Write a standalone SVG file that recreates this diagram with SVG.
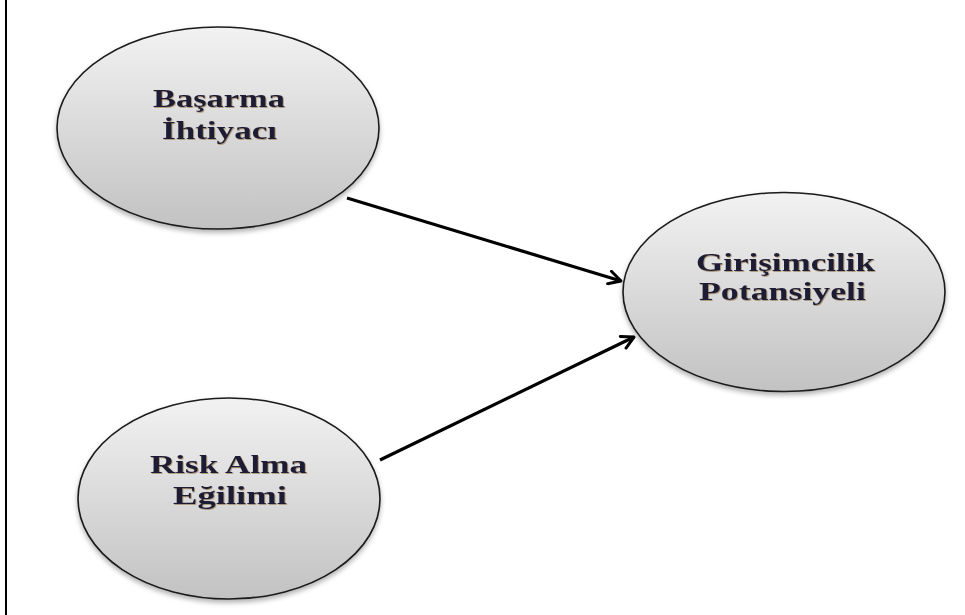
<svg xmlns="http://www.w3.org/2000/svg" width="965" height="615" viewBox="0 0 965 615">
  <defs>
    <linearGradient id="bubbleFill" x1="0" y1="0" x2="0" y2="1">
      <stop offset="0" stop-color="#f2f2f2"/>
      <stop offset="1" stop-color="#c2c2c2"/>
    </linearGradient>
    <filter id="softShadow" x="-10%" y="-10%" width="125%" height="130%">
      <feDropShadow dx="0" dy="3" stdDeviation="2.5" flood-color="#000" flood-opacity="0.3"/>
    </filter>
    <filter id="textShadow" x="-5%" y="-20%" width="110%" height="140%">
      <feDropShadow dx="0.8" dy="0.8" stdDeviation="0.6" flood-color="#8a6a3a" flood-opacity="0.7"/>
    </filter>
    <marker id="openArrow" viewBox="0 0 16 16" refX="14" refY="8" markerWidth="16" markerHeight="16" markerUnits="userSpaceOnUse" orient="auto">
      <path d="M2,1.5 L14,8 L2,14.5" fill="none" stroke="#000" stroke-width="3" stroke-linecap="round" stroke-linejoin="round"/>
    </marker>
  </defs>
  <style>
    .bubble { fill: url(#bubbleFill); stroke: #1a1a1a; stroke-width: 1.6; filter: url(#softShadow); }
    .label { font-family: "Liberation Serif", "Times New Roman", serif; font-weight: bold; font-size: 25px; fill: #1b1b36; text-anchor: middle; filter: url(#textShadow); }
    .edge { fill: none; stroke: #000; stroke-width: 3.2; marker-end: url(#openArrow); }
  </style>

  <rect x="0" y="0" width="965" height="615" fill="#fff"/>
  <!-- left frame rule -->
  <line x1="6" y1="0" x2="6" y2="615" stroke="#000" stroke-width="2"/>

  <g id="connectors">
    <line class="edge" x1="347" y1="198" x2="621" y2="281"/>
    <line class="edge" x1="380" y1="460" x2="634" y2="337"/>
  </g>

  <g id="node-basarma">
    <ellipse class="bubble" cx="218" cy="128" rx="161" ry="101"/>
    <text class="label" x="219" y="107" textLength="132" lengthAdjust="spacingAndGlyphs">Başarma</text>
    <text class="label" x="219.5" y="139" textLength="115" lengthAdjust="spacingAndGlyphs">İhtiyacı</text>
  </g>

  <g id="node-potansiyel">
    <ellipse class="bubble" cx="784" cy="292" rx="161" ry="99.5"/>
    <text class="label" x="785.5" y="271" textLength="179" lengthAdjust="spacingAndGlyphs">Girişimcilik</text>
    <text class="label" x="782.5" y="300" textLength="167" lengthAdjust="spacingAndGlyphs">Potansiyeli</text>
  </g>

  <g id="node-risk">
    <ellipse class="bubble" cx="229" cy="498.5" rx="151" ry="100.5"/>
    <text class="label" x="228.5" y="473" textLength="157" lengthAdjust="spacingAndGlyphs">Risk Alma</text>
    <text class="label" x="230" y="504" textLength="114" lengthAdjust="spacingAndGlyphs">Eğilimi</text>
  </g>
</svg>
